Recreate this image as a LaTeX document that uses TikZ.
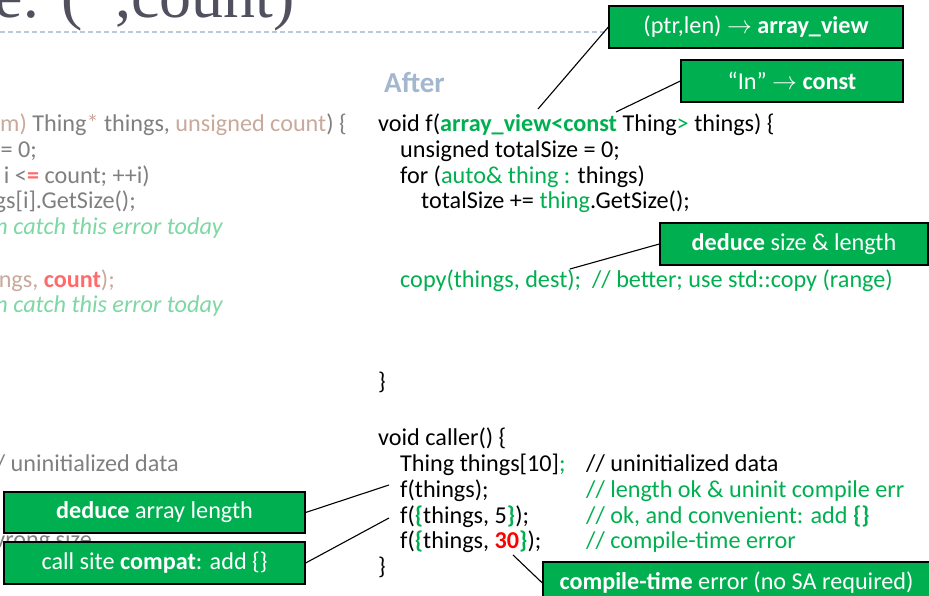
\documentclass[tikz,border=0pt]{standalone}
\usepackage{fontspec}
\setmainfont{Carlito}
\newfontfamily\titlefont{Liberation Serif}
\definecolor{cg}{HTML}{00B050}
\definecolor{boxgreen}{HTML}{00B050}
\definecolor{cred}{HTML}{FF0000}
\definecolor{fgrey}{HTML}{808080}
\definecolor{fbrown}{HTML}{C9A99C}
\definecolor{fgreen}{HTML}{7DD8A4}
\definecolor{fred}{HTML}{FF6B6B}
\definecolor{aftercol}{HTML}{A3B7CF}
\definecolor{titlecol}{HTML}{50505F}
\definecolor{dashcol}{HTML}{B8CADC}
\tikzset{
  codefont/.style={font=\fontsize{24.2}{26}\selectfont},
  code/.style={codefont, inner sep=0pt, anchor=base west, text=black},
  lcode/.style={codefont, inner sep=0pt, anchor=base east, text=fgrey},
  callout/.style={draw=black, line width=1.3pt, fill=boxgreen, text=white, inner sep=0pt,
                  codefont, minimum height=42pt},
  conn/.style={draw=black, line width=1.1pt},
}
\begin{document}
\begin{tikzpicture}[x=1pt,y=-1pt]
\useasboundingbox (0,0) rectangle (929,596);
\clip (0,0) rectangle (929,596);
\fill[white] (0,0) rectangle (929,596);

% title (cut off at top)
\node[inner sep=0pt, anchor=base east, text=titlecol, font=\titlefont\fontsize{64}{70}\selectfont] (title) at (295,18) {le: (*,count)};
\draw[dashcol, line width=1.2pt, dash pattern=on 5pt off 3pt] (0,32) -- (606,32);

% faded "before" code (cut at left)
\node[lcode] (l0) at (347,132) {\textcolor{fbrown}{m)} Thing\textcolor{fbrown}{*} things, \textcolor{fbrown}{unsigned count}) \{};
\node[lcode] (l1) at (37,158) {= 0;};
\node[lcode] (l2) at (150,184) {i <\textcolor{fred}{\textbf{=}} count; ++i)};
\node[lcode] (l3) at (136,209) {gs[i].GetSize();};
\node[lcode, text=fgreen] (l4) at (223,235) {\itshape n catch this error today};
\node[lcode, text=fbrown] (l6) at (115,287) {ngs, \textcolor{fred}{\textbf{count}});};
\node[lcode, text=fgreen] (l7) at (223,312) {\itshape n catch this error today};
\node[lcode] (l8) at (179,471) {/ uninitialized data};
\node[lcode] (l9) at (92,547) {vrong size};

% heading
\node[inner sep=0pt, anchor=base west, text=aftercol, font=\fontsize{29}{32}\selectfont\bfseries] (after) at (384,92.7) {After};

% "after" code
\node[code] (r0) at (378,132) {void f(\textcolor{cg}{\textbf{array\_view<const}} Thing\textcolor{cg}{>} things) \{};
\node[code] (r1) at (400,158) {unsigned totalSize = 0;};
\node[code] (r2) at (400,184) {for (\textcolor{cg}{auto\& thing :} things)};
\node[code] (r3) at (421,209) {totalSize += \textcolor{cg}{thing}.GetSize();};
\node[code, text=cg] (r4) at (400,287) {copy(things, dest);\ \ // better; use std::copy (range)};
\node[code] (r5) at (378,389) {\}};
\node[code] (r6) at (378,445) {void caller() \{};
\node[code] (r7) at (400,471) {Thing things[10]\textcolor{cg}{;}};
\node[code] (c7) at (586,471) {// uninitialized data};
\node[code] (r8) at (400,497) {f(things);};
\node[code, text=cg] (c8) at (586,497) {// length ok \& uninit compile err};
\node[code] (r9) at (400,523) {f(\textcolor{cg}{\textbf{\{}}things, 5\textcolor{cg}{\textbf{\}}});};
\node[code, text=cg] (c9) at (586,523) {// ok, and convenient: add \textbf{\{\}}};
\node[code] (r10) at (400,548) {f(\textcolor{cg}{\textbf{\{}}things, \textcolor{cred}{\textbf{30}}\textcolor{cg}{\textbf{\}}});};
\node[code, text=cg] (c10) at (586,548) {// compile-time error};
\node[code] (r11) at (378,574) {\}};

% anchor points on the code
\coordinate (p1) at (538,109);
\coordinate (p2) at (616,112);
\coordinate (p3) at (570,269);
\coordinate (p4) at (389,485);
\coordinate (p5) at (389,518);
\coordinate (p6) at (513,555);

% callouts
\node[callout, minimum width=294pt] (b1) at (756,27) {(ptr,len) $\rightarrow$ \textbf{array\_view}};
\node[callout, minimum width=222pt] (b2) at (792,81) {“In” $\rightarrow$ \textbf{const}};
\node[callout, minimum width=268pt] (b3) at (794,244) {\textbf{deduce} size \& length};
\node[callout, minimum width=301pt, minimum height=41pt] (b4) at (154.5,512.5) {\textbf{deduce} array length};
\node[callout, minimum width=301pt] (b5) at (154.5,563) {call site \textbf{compat}: add \{\}};
\node[callout, minimum width=387pt] (b6) at (736.5,583) {\textbf{compile-time} error (no SA required)};

% connectors
\draw[conn] (b1.west) -- (p1);
\draw[conn] (b2.west) -- (p2);
\draw[conn] (b3.west) -- (p3);
\draw[conn] (b4.east) -- (p4);
\draw[conn] (b5.east) -- (p5);
\draw[conn] (p6) -- (b6.west);
\end{tikzpicture}
\end{document}
